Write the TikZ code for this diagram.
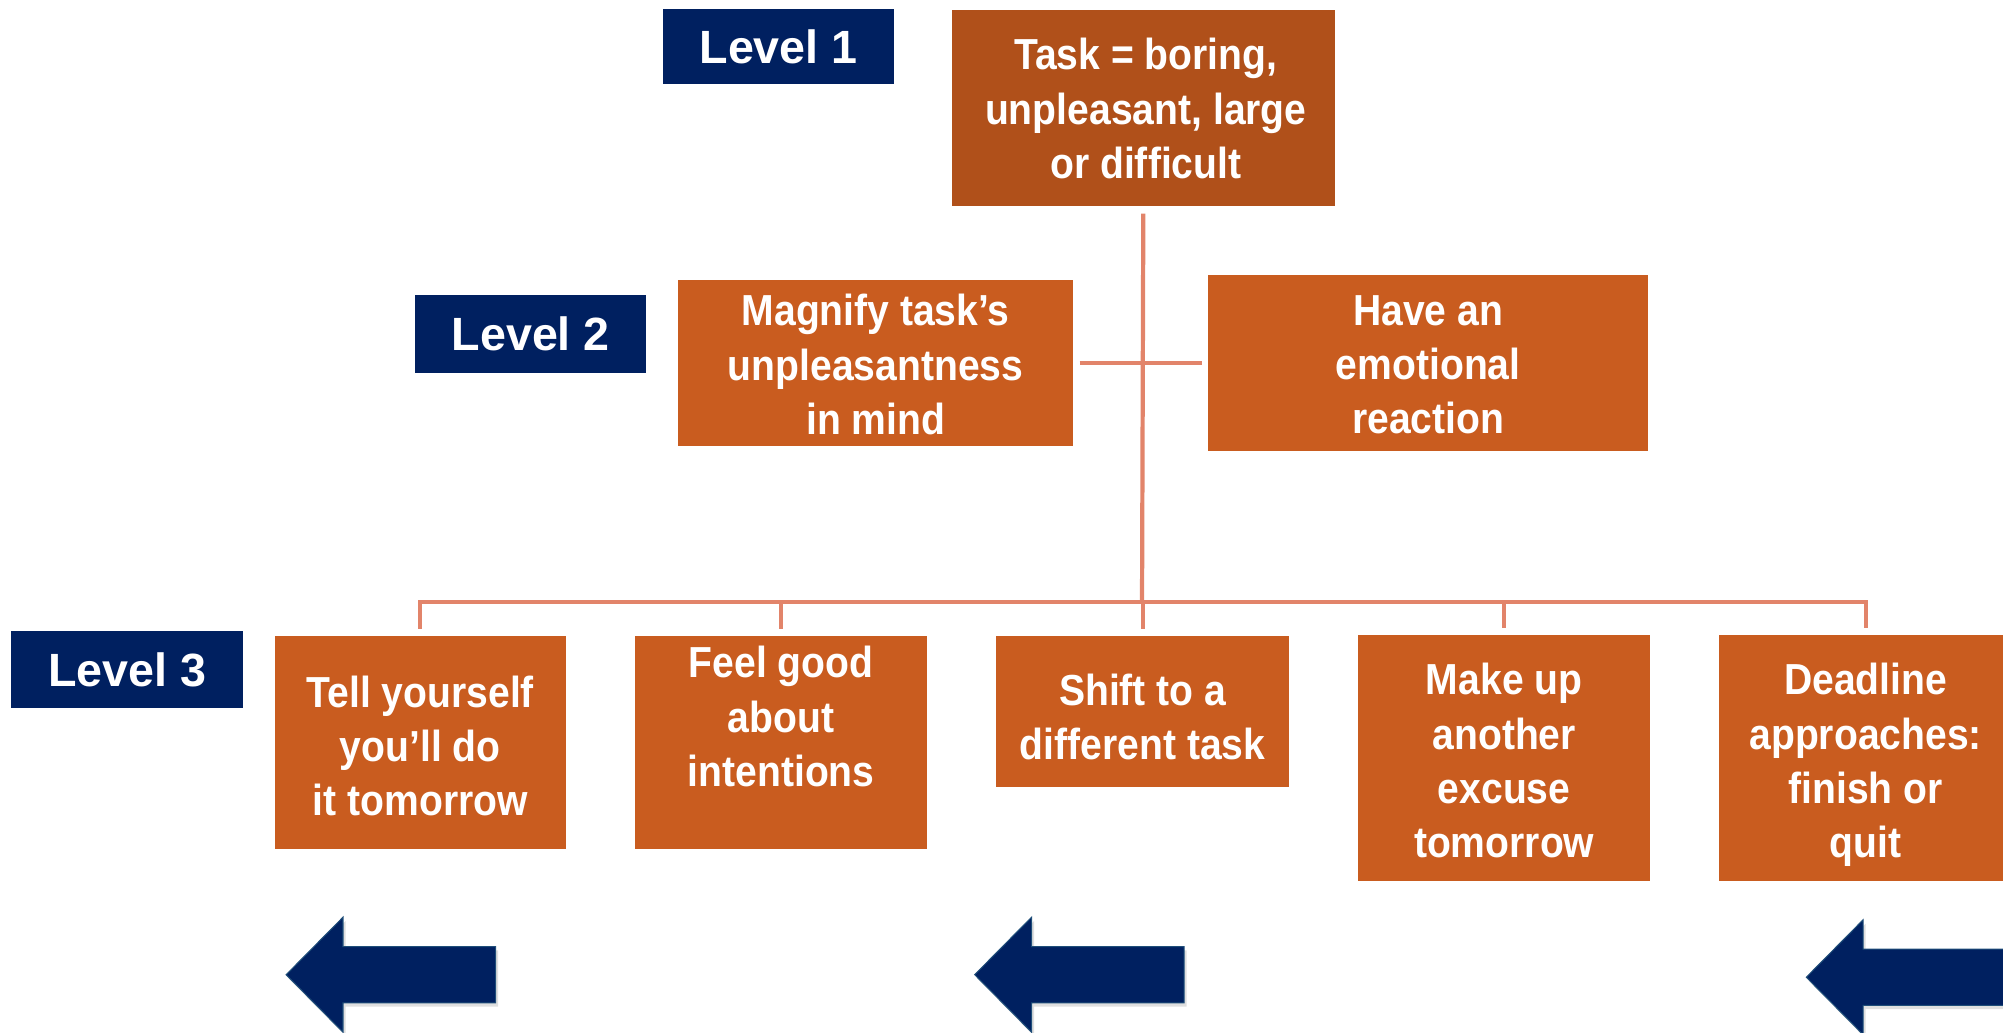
\documentclass[tikz,border=0pt]{standalone}
\usepackage{fontspec}
\usetikzlibrary{shadows}
\newfontfamily\boxfont{Liberation Sans}[FakeStretch=0.9]
\newfontfamily\lvlfont{Liberation Sans}
\definecolor{navy}{HTML}{002060}
\definecolor{taskbrown}{HTML}{B0501A}
\definecolor{boxorange}{HTML}{C95C1F}
\definecolor{linksalmon}{HTML}{E2846A}
\definecolor{arrowedge}{HTML}{1F4E79}
\tikzset{
  pics/leftarrow/.style={code={
    \path[fill=navy, draw=arrowedge, line width=0.8pt, line join=miter,
          drop shadow={shadow xshift=2pt, shadow yshift=-3pt, opacity=0.25}]
      (0,0) -- (44.5,-45) -- (44.5,-22) -- (#1,-22) -- (#1,22)
      -- (44.5,22) -- (44.5,45) -- cycle;
  }}
}
\begin{document}
\begin{tikzpicture}[x=1pt, y=-1pt,
  lvl/.style={fill=navy, text=white, inner sep=0pt, minimum width=181pt,
              font=\lvlfont\bfseries\fontsize{36.5}{44}\selectfont},
  stepbox/.style={fill=boxorange, inner sep=0pt},
  boxtext/.style={text=white, align=center, inner sep=0pt,
                  font=\boxfont\bfseries\fontsize{34}{42.5}\selectfont},
  link/.style={draw=linksalmon, line width=3.3pt, line join=miter},
]
\useasboundingbox (0,0) rectangle (1568,808);
\clip (0,0) rectangle (1568,808);

% level labels
\node[lvl, minimum height=59pt] (l1) at (609.5,36.5) {Level 1};
\node[lvl, minimum height=61pt] (l2) at (415.5,261.5) {Level 2};
\node[lvl, minimum height=60pt] (l3) at (99.5,524) {Level 3};

% level 1
\node[stepbox, fill=taskbrown, minimum width=300pt, minimum height=153pt] (task) at (895,84.5) {};
\node[boxtext] (taskt) at (897,85) {Task = boring,\\unpleasant, large\\or difficult};

% level 2
\node[stepbox, minimum width=309pt, minimum height=130pt] (mag) at (685.5,284) {};
\node[boxtext] (magt) at (685.5,285.5) {Magnify task’s\\unpleasantness\\in mind};
\node[stepbox, minimum width=344pt, minimum height=138pt] (emo) at (1118,284) {};
\node[boxtext] (emot) at (1118,285.5) {Have an\\emotional\\reaction};

% level 3
\node[stepbox, minimum width=228pt, minimum height=167pt] (b1) at (329,581.5) {};
\node[boxtext] (b1t) at (329,584) {Tell yourself\\you’ll do\\it tomorrow};
\node[stepbox, minimum width=229pt, minimum height=167pt] (b2) at (611.5,581.5) {};
\node[boxtext] (b2t) at (611.5,561) {Feel good\\about\\intentions};
\node[stepbox, minimum width=229pt, minimum height=118pt] (b3) at (894.5,557) {};
\node[boxtext] (b3t) at (894.5,561) {Shift to a\\different task};
\node[stepbox, minimum width=229pt, minimum height=193pt] (b4) at (1177.5,593.5) {};
\node[boxtext] (b4t) at (1177.5,595.5) {Make up\\another\\excuse\\tomorrow};
\node[stepbox, minimum width=229pt, minimum height=193pt] (b5) at (1460.5,593.5) {};
\node[boxtext] (b5t) at (1460.5,599) {Deadline\\approaches:\\finish or\\quit};

% connectors
\coordinate (hub) at (894,471);
\draw[link] ([yshift=-6pt]task.south) -- (hub);
\draw[link] ([xshift=5pt]mag.east) -- ([xshift=-5pt]emo.west);
\draw[link] ([yshift=5.5pt]b1.north) -- (b1.north |- hub) -- (b5.north |- hub) -- ([yshift=5.5pt]b5.north);
\foreach \b in {b2,b3,b4}
  \draw[link] (\b.north |- hub) -- ([yshift=5.5pt]\b.north);

% block arrows along the bottom
\pic (a1) at (224,763) {leftarrow=164};
\pic (a2) at (763,763) {leftarrow=164};
\pic (a3) at (1414,765) {leftarrow=200};
\end{tikzpicture}
\end{document}
